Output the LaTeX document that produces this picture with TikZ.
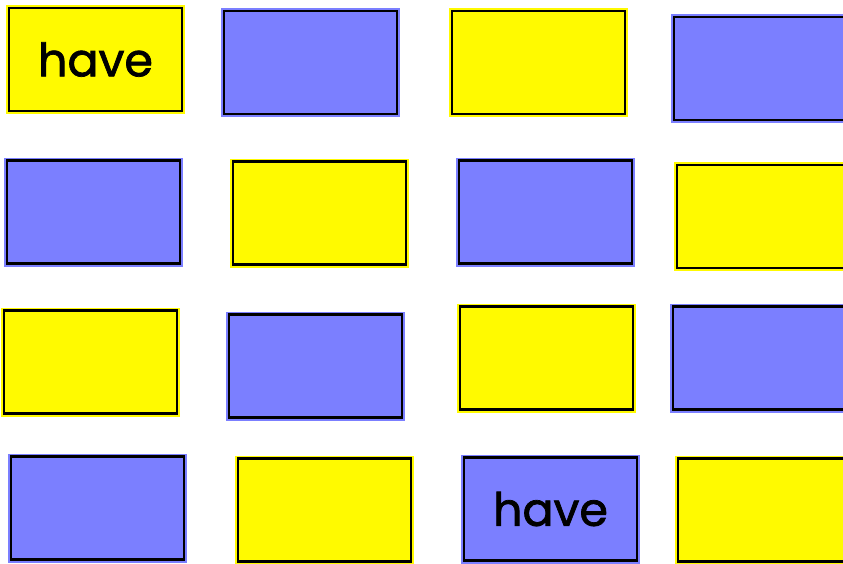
\documentclass[tikz,border=0pt]{standalone}
\usepackage{fontspec}
\setmainfont{Poppins}
\newfontfamily\cardfont{Poppins}[FakeBold=1.6]
\definecolor{cardyellow}{RGB}{255,250,0}
\definecolor{cardblue}{RGB}{123,127,255}
\begin{document}
\begin{tikzpicture}[x=1pt,y=-1pt,
  card/.style={rectangle, inner sep=0pt, minimum width=173pt, minimum height=103pt,
    draw=black, line width=2.2pt, font=\cardfont\fontsize{46}{49}\selectfont},
  ycard/.style={card, fill=cardyellow, preaction={draw=cardyellow, line width=6pt}},
  bcard/.style={card, fill=cardblue, preaction={draw=cardblue, line width=6pt}}]
\useasboundingbox (0,0) rectangle (843,563);
\begin{scope}
\clip (0,0) rectangle (843,563);
% row 1
\node[ycard] (r1c1) at (95.5,59.5) {have};
\node[bcard] (r1c2) at (310.5,62.5) {};
\node[ycard] (r1c3) at (538.5,62.5) {};
\node[bcard] (r1c4) at (760.5,68.5) {};
% row 2
\node[bcard] (r2c1) at (93.5,212) {};
\node[ycard] (r2c2) at (319.5,213) {};
\node[bcard] (r2c3) at (545.5,212) {};
\node[ycard] (r2c4) at (763.5,216.5) {};
% row 3
\node[ycard] (r3c1) at (90.5,362) {};
\node[bcard] (r3c2) at (315.5,366) {};
\node[ycard] (r3c3) at (546.5,358) {};
\node[bcard] (r3c4) at (759.5,358) {};
% row 4
\node[bcard] (r4c1) at (97.5,508) {};
\node[ycard] (r4c2) at (324.5,510) {};
\node[bcard] (r4c3) at (550.5,509) {have};
\node[ycard] (r4c4) at (764.5,510) {};
\end{scope}
\end{tikzpicture}
\end{document}
